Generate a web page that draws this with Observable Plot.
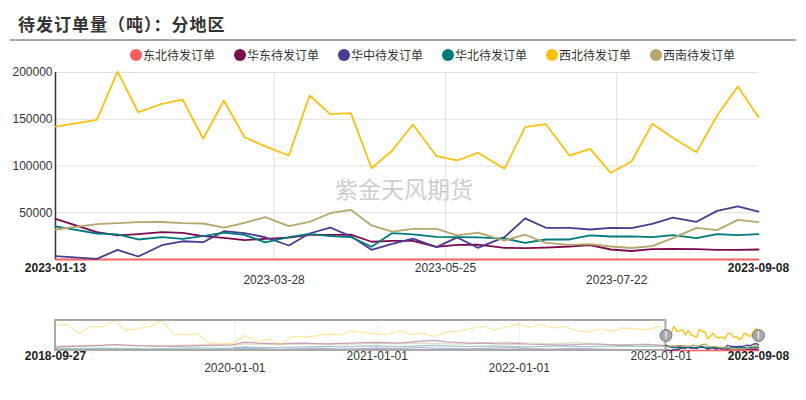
<!DOCTYPE html>
<html>
<head>
<meta charset="utf-8">
<script src="https://cdn.jsdelivr.net/npm/d3@7"></script>
<script src="https://cdn.jsdelivr.net/npm/@observablehq/plot@0.6"></script>
<style>
  body { margin: 0; background: #fff; width: 806px; height: 400px; position: relative; overflow: hidden;
         font-family: "Liberation Sans", "Noto Sans CJK SC", sans-serif; color: #333; }
  #title { position: absolute; left: 18px; top: 11px; font: bold 17px "Noto Sans CJK SC", sans-serif;
           letter-spacing: 1px; color: #333; white-space: nowrap; }
  #rule { position: absolute; left: 10px; width: 786px; top: 39px; border-top: 2px solid #aaa; }
  #legend { position: absolute; left: 130px; top: 47px; display: flex; gap: 19px; font-size: 12px;
            font-family: "Noto Sans CJK SC", sans-serif; color: #333; line-height: 16px; }
  .item { display: flex; align-items: center; }
  .sw { width: 12px; height: 12px; border-radius: 50%; margin-right: 1px; }
  #main { position: absolute; left: 0; top: 60px; }
  #nav { position: absolute; left: 0; top: 300px; }
</style>
</head>
<body>
<div id="title">待发订单量（吨）：分地区</div>
<div id="rule"></div>
<div id="legend"></div>
<div id="main"></div>
<div id="nav"></div>
<script>
// Series names and colours
const regions = ["东北待发订单", "华东待发订单", "华中待发订单", "华北待发订单", "西北待发订单", "西南待发订单"];
const colors = ["#fb5e5e", "#7c0a4f", "#4b3a91", "#00797e", "#fdc010", "#b5a76c"];

// Weekly observations in the zoomed window
const dates = ["2023-01-13","2023-01-27","2023-02-03","2023-02-10","2023-02-18","2023-02-25","2023-03-04","2023-03-11",
  "2023-03-18","2023-03-25","2023-04-02","2023-04-09","2023-04-16","2023-04-23","2023-04-30","2023-05-07","2023-05-14",
  "2023-05-22","2023-05-29","2023-06-05","2023-06-14","2023-06-21","2023-06-28","2023-07-06","2023-07-13","2023-07-20",
  "2023-07-27","2023-08-03","2023-08-10","2023-08-18","2023-08-25","2023-09-01","2023-09-08"];
const dongbei  = [0,0,0,0,0,0,0,0,0,0,0,0,0,0,0,0,0,0,0,0,0,0,0,0,0,0,0,0,0,0,0,0,0];
const huadong  = [43500,29200,25700,27100,29200,28500,25000,23200,20700,22100,23500,26400,26400,26700,19000,20000,20000,
  13500,15700,16000,12500,12100,12800,13900,15300,10700,9100,11000,11400,11000,10300,10300,10700];
const huazhong = [3600,700,10300,3200,15300,19500,18500,30300,28200,23800,15000,27800,34200,24800,10300,16800,22400,
  13200,23600,12500,23900,44000,33900,33900,32100,33900,33500,38100,44900,40300,52000,56700,51300];
const huabei   = [35500,27800,26800,21400,23900,22100,25000,28800,26400,18300,23900,27500,25000,24000,13600,28300,26800,
  24300,23900,23600,22400,17800,21400,21400,25700,24600,24800,23900,26000,22800,27100,26000,27100];
const xibei    = [142200,149400,201000,157500,166500,171100,129100,170000,130800,121000,111200,175400,155400,156500,97600,
  116600,144400,110500,105900,114100,97000,141500,144700,111200,118400,92700,104800,145100,130200,114800,154000,185000,152200];
const xinan    = [32100,37800,39000,39900,40100,39000,38500,34200,39200,45300,35600,40200,49500,53100,36400,29800,32800,
  32800,25700,28700,20300,26500,17800,15700,16400,13900,12300,14300,22800,33900,31400,42400,39900];

// Earlier history shown in the overview slider (monthly)
const histDates = ["2018-09-27","2018-10-27","2018-11-27","2018-12-27","2019-01-27","2019-02-27","2019-03-27","2019-04-27",
  "2019-05-27","2019-06-27","2019-07-27","2019-08-27","2019-09-27","2019-10-27","2019-11-27","2019-12-27","2020-01-27",
  "2020-02-27","2020-03-27","2020-04-27","2020-05-27","2020-06-27","2020-07-27","2020-08-27","2020-09-27","2020-10-27",
  "2020-11-27","2020-12-27","2021-01-27","2021-02-27","2021-03-27","2021-04-27","2021-05-27","2021-06-27","2021-07-27",
  "2021-08-27","2021-09-27","2021-10-27","2021-11-27","2021-12-27","2022-01-27","2022-02-27","2022-03-27","2022-04-27",
  "2022-05-27","2022-06-27","2022-07-27","2022-08-27","2022-09-27","2022-10-27","2022-11-27","2022-12-27"];
const histDongbei  = [null,null,null,null,null,null,null,null,null,null,0,0,0,0,0,0,0,0,0,0,0,0,0,0,0,0,0,0,0,0,0,0,0,0,0,0,
  0,0,0,0,0,0,0,0,0,0,0,0,0,0,0,0];
const histHuadong  = [30000,33000,35000,38000,42000,50000,45000,40000,38000,36000,34000,36000,40000,42000,45000,48000,70000,
  62000,58000,55000,60000,62000,58000,56000,60000,62000,65000,68000,66000,62000,70000,78000,85000,72000,66000,62000,64000,
  58000,55000,58000,52000,50000,48000,46000,50000,54000,52000,48000,45000,48000,50000,46000];
const histHuazhong = [0,0,0,0,0,0,0,0,0,0,2000,5000,8000,6000,10000,12000,20000,15000,12000,10000,14000,16000,18000,15000,
  12000,14000,16000,20000,18000,15000,22000,25000,20000,18000,16000,14000,18000,20000,22000,19000,16000,14000,12000,15000,
  18000,16000,12000,10000,8000,6000,5000,4000];
const histHuabei   = [18000,16000,15000,17000,20000,18000,16000,15000,14000,16000,18000,20000,22000,20000,18000,22000,30000,
  26000,24000,25000,28000,30000,32000,34000,30000,32000,36000,38000,34000,32000,36000,40000,42000,38000,34000,32000,36000,
  38000,35000,32000,30000,34000,36000,38000,35000,32000,34000,36000,38000,35000,34000,36000];
const histXibei    = [208000,217000,144000,200000,194000,250000,167000,181000,200000,248000,139000,133000,139000,61000,
  56000,61000,125000,69000,97000,50000,117000,111000,122000,139000,128000,161000,150000,139000,133000,167000,133000,144000,
  117000,153000,161000,181000,200000,172000,194000,222000,194000,217000,189000,200000,167000,153000,181000,161000,189000,
  181000,172000,200000];
const histXinan    = [35000,38000,40000,42000,45000,44000,40000,38000,36000,40000,42000,45000,48000,46000,44000,42000,55000,
  50000,48000,46000,50000,52000,55000,50000,48000,52000,56000,60000,58000,55000,60000,62000,58000,55000,52000,56000,60000,
  65000,70000,66000,62000,60000,58000,62000,65000,60000,55000,50000,48000,52000,56000,38000];

// Axis tick labels
const yTicks = [50000, 100000, 150000, 200000];
const mainTicks = ["2023-01-13", "2023-03-28", "2023-05-25", "2023-07-22", "2023-09-08"];
const navTicks = ["2018-09-27", "2020-01-01", "2021-01-01", "2022-01-01", "2023-01-01", "2023-09-08"];
const watermark = "紫金天风期货";

const parse = d3.utcParse("%Y-%m-%d");
const fmt = d3.utcFormat("%Y-%m-%d");
const font = '"Liberation Sans", "Noto Sans CJK SC", sans-serif';

// Legend
const legend = document.getElementById("legend");
regions.forEach((r, i) => {
  const item = document.createElement("div");
  item.className = "item";
  item.innerHTML = `<span class="sw" style="background:${colors[i]}"></span><span>${r}</span>`;
  legend.appendChild(item);
});

// Long-format tables
const mainSeries = [dongbei, huadong, huazhong, huabei, xibei, xinan];
const histSeries = [histDongbei, histHuadong, histHuazhong, histHuabei, histXibei, histXinan];
const rows = regions.flatMap((r, k) => dates.map((d, i) => ({region: r, date: parse(d), value: mainSeries[k][i]})));
const histRows = regions.flatMap((r, k) => [
  ...histDates.map((d, i) => ({region: r, date: parse(d), value: histSeries[k][i]})),
  {region: r, date: parse(dates[0]), value: mainSeries[k][0]}
]);

const mt = mainTicks.map(parse);
const colorScale = {domain: regions, range: colors};

const main = Plot.plot({
  width: 806, height: 240,
  marginLeft: 55, marginRight: 48, marginTop: 12, marginBottom: 41,
  style: {fontFamily: font, fontSize: "12px", color: "#333", background: "transparent"},
  x: {type: "utc", domain: [mt[0], mt[4]]},
  y: {domain: [0, 200000]},
  color: colorScale,
  marks: [
    Plot.gridY(yTicks, {stroke: "#e0e0e0", strokeOpacity: 1}),
    Plot.gridX([mt[1], mt[2], mt[3]], {stroke: "#e0e0e0", strokeOpacity: 1}),
    Plot.text([watermark], {frameAnchor: "middle", dx: -3, dy: 25, fontSize: 23, fill: "#cdcdcd",
      fontFamily: '"Noto Sans CJK SC", sans-serif'}),
    Plot.axisY(yTicks, {tickSize: 0, tickPadding: 3, tickFormat: d => String(d), label: null, fill: "#333"}),
    Plot.ruleX([mt[0]], {stroke: "#333", strokeWidth: 1.5}),
    Plot.lineY(rows, {x: "date", y: "value", z: "region", stroke: "region", strokeWidth: 1.8}),
    Plot.axisX([mt[0], mt[4]], {tickSize: 0, tickPadding: 4, tickFormat: fmt, label: null, fontWeight: "bold", fill: "#222"}),
    Plot.axisX([mt[2]], {tickSize: 0, tickPadding: 4, tickFormat: fmt, label: null, fill: "#333"}),
    Plot.axisX([mt[1], mt[3]], {tickSize: 0, tickPadding: 16, tickFormat: fmt, label: null, fill: "#333"})
  ]
});
document.getElementById("main").appendChild(main);

// Overview slider
const nt = navTicks.map(parse);
const selStart = mt[0], selEnd = mt[4];
const nav = Plot.plot({
  width: 806, height: 100,
  marginLeft: 55, marginRight: 48, marginTop: 20, marginBottom: 50,
  style: {fontFamily: font, fontSize: "12px", color: "#333", background: "transparent"},
  x: {type: "utc", domain: [nt[0], nt[5]]},
  y: {domain: [0, 250000], axis: null},
  color: colorScale,
  marks: [
    Plot.ruleX([nt[1], nt[2], nt[3]], {stroke: "#eeeeee"}),
    Plot.lineY(histRows, {x: "date", y: "value", z: "region", stroke: "region", strokeWidth: 1.2, strokeOpacity: 0.4}),
    Plot.rect([0], {x1: () => nt[0], x2: () => selStart, y1: 0, y2: 250000, fill: "none", stroke: "#aaa", strokeWidth: 2}),
    Plot.lineY(rows, {x: "date", y: "value", z: "region", stroke: "region", strokeWidth: 1.3}),
    Plot.dot([selStart, selEnd], {x: d => d, y: 125000, r: 6, fill: "#a9a9a9", stroke: "#7a7a7a", strokeWidth: 1}),
    Plot.ruleX([selStart, selEnd], {x: d => d, y1: 95000, y2: 155000, stroke: "#fff", strokeWidth: 1.2}),
    Plot.axisX([nt[0], nt[5]], {tickSize: 0, tickPadding: 1, tickFormat: fmt, label: null, fontWeight: "bold", fill: "#222"}),
    Plot.axisX([nt[2], nt[4]], {tickSize: 0, tickPadding: 1, tickFormat: fmt, label: null, fill: "#333"}),
    Plot.axisX([nt[1], nt[3]], {tickSize: 0, tickPadding: 13, tickFormat: fmt, label: null, fill: "#333"})
  ]
});
document.getElementById("nav").appendChild(nav);
</script>
</body>
</html>
